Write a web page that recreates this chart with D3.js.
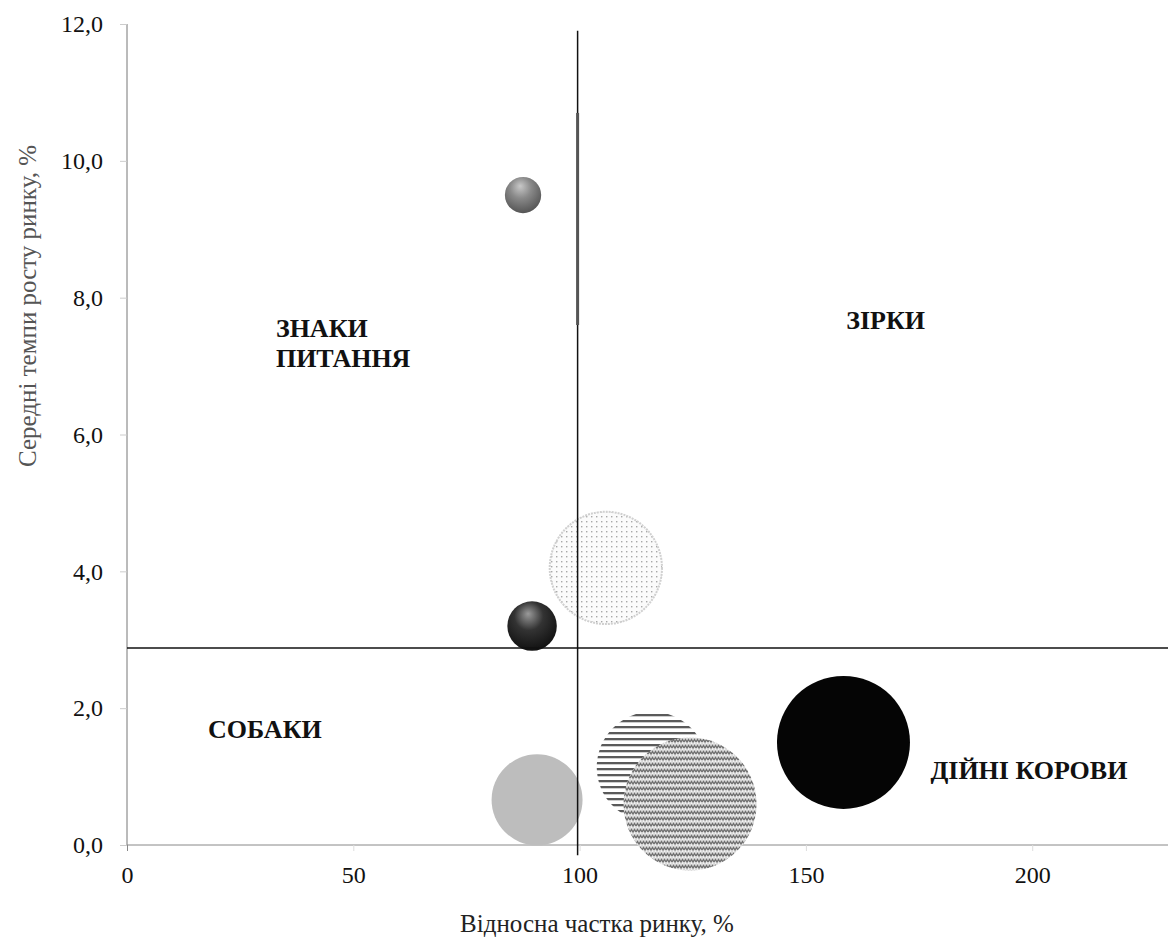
<!DOCTYPE html>
<html><head><meta charset="utf-8">
<script src="https://cdn.jsdelivr.net/npm/d3@7"></script>
<style>body{margin:0;background:#fff}svg{display:block}</style>
</head><body>
<svg id="c" width="1171" height="944"></svg>
<script>
// Data
const names = ["A","B","C","D","E","F","G"];
const shareX = [90.6, 116, 124.4, 158.3, 105.8, 89.5, 87.5];     // relative market share, %
const growthY = [0.66, 1.14, 0.6, 1.5, 4.05, 3.2, 9.5];          // market growth rate, %
const sizes = [44, 65, 94, 94, 67, 13, 7];                         // bubble size
const fills = ["solid-gray","stripes","wave","solid-black","dots","sphere-dark","sphere-gray"];
const xTicks = [0, 50, 100, 150, 200];
const yTicks = [0, 2, 4, 6, 8, 10, 12];
const quadLabels = [
  {lines:["ЗНАКИ","ПИТАННЯ"], x:32.9, y:7.43},
  {lines:["ЗІРКИ"], x:158.9, y:7.54},
  {lines:["СОБАКИ"], x:17.9, y:1.56},
  {lines:["ДІЙНІ КОРОВИ"], x:177.5, y:0.965}
];
const divX = 100, divY = 2.88;

const svg = d3.select("#c");
const x = d3.scaleLinear().domain([0, 230]).range([127, 1168]);
const y = d3.scaleLinear().domain([0, 12]).range([845, 24]);
const r = d3.scaleSqrt().domain([0, 94]).range([0, 66.5]);
const font = "'Liberation Serif','Times New Roman',serif";

const defs = svg.append("defs");
// dots pattern
const pd = defs.append("pattern").attr("id","dots").attr("patternUnits","userSpaceOnUse").attr("width",5).attr("height",5);
pd.append("rect").attr("width",5).attr("height",5).attr("fill","#fbfbfb");
pd.append("rect").attr("x",1).attr("y",1).attr("width",1.4).attr("height",1.4).attr("fill","#a8a8a8");
// stripes
const ps = defs.append("pattern").attr("id","stripes").attr("patternUnits","userSpaceOnUse").attr("width",8).attr("height",6);
ps.append("rect").attr("width",8).attr("height",6).attr("fill","#fff");
ps.append("rect").attr("y",0).attr("width",8).attr("height",2.3).attr("fill","#5a5a5a");
// wave
const pw = defs.append("pattern").attr("id","wave").attr("patternUnits","userSpaceOnUse").attr("width",6).attr("height",6);
pw.append("rect").attr("width",6).attr("height",6).attr("fill","#d8d8d8");
pw.append("path").attr("d","M0,4 L1.5,1.5 L3,4 L4.5,1.5 L6,4").attr("fill","none").attr("stroke","#6e6e6e").attr("stroke-width",1.3);
pw.append("rect").attr("x",1).attr("y",4.5).attr("width",1.2).attr("height",1.2).attr("fill","#fff");
pw.append("rect").attr("x",4).attr("y",4.5).attr("width",1.2).attr("height",1.2).attr("fill","#fff");
// sphere gradients
function sphere(id, hi, mid, lo){
  const g = defs.append("radialGradient").attr("id",id).attr("cx","45%").attr("cy","35%").attr("r","65%").attr("fx","42%").attr("fy","25%");
  g.append("stop").attr("offset","0%").attr("stop-color",hi);
  g.append("stop").attr("offset","45%").attr("stop-color",mid);
  g.append("stop").attr("offset","100%").attr("stop-color",lo);
}
sphere("sphere-gray","#c8c8c8","#8a8a8a","#555");
sphere("sphere-dark","#9a9a9a","#333","#111");

const fillOf = f => ({ "solid-gray":"#bdbdbd", "solid-black":"#050505",
  "stripes":"url(#stripes)", "wave":"url(#wave)", "dots":"url(#dots)",
  "sphere-dark":"url(#sphere-dark)", "sphere-gray":"url(#sphere-gray)" })[f];

// axes
const yAxis = d3.axisLeft(y).tickValues(yTicks).tickSize(7).tickPadding(17)
  .tickFormat(d => d3.format(".1f")(d).replace(".", ","));
const gy = svg.append("g").attr("transform",`translate(${x(0)},0)`).call(yAxis);
gy.select(".domain").attr("stroke","#777").attr("d",`M0,${y(0)}V${y(12)}`);
gy.selectAll(".tick line").attr("stroke","#ccc");
gy.selectAll("text").attr("font-family",font).attr("font-size",24).attr("fill","#111");

const xAxis = d3.axisBottom(x).tickValues(xTicks).tickSize(6).tickPadding(15);
const gx = svg.append("g").attr("transform",`translate(0,${y(0)})`).call(xAxis);
gx.select(".domain").attr("stroke","#888").attr("d",`M${x(0)},0H${x(230)}`);
gx.selectAll(".tick line").attr("stroke","#ddd");
gx.selectAll(".tick").filter(d=>d===0).select("line").attr("stroke","#888");
gx.selectAll("text").attr("font-family",font).attr("font-size",24).attr("fill","#111");

// bubbles
const data = names.map((n,i)=>({n, x:shareX[i], y:growthY[i], s:sizes[i], f:fills[i]}));
svg.append("g").selectAll("circle").data(data).join("circle")
  .attr("cx",d=>x(d.x)).attr("cy",d=>y(d.y)).attr("r",d=>r(d.s))
  .attr("fill",d=>fillOf(d.f))
  .attr("stroke",d=>d.f==="dots"?"#d0d0d0":"none")
  .attr("stroke-width",2).attr("stroke-dasharray",d=>d.f==="dots"?"2,1":null);

// divider lines
svg.append("line").attr("x1",x(divX)-2).attr("x2",x(divX)-2).attr("y1",y(11.9)).attr("y2",y(-0.15))
  .attr("stroke","#111").attr("stroke-width",1.5);
svg.append("line").attr("x1",x(divX)-2).attr("x2",x(divX)-2).attr("y1",y(10.7)).attr("y2",y(7.6))
  .attr("stroke","#555").attr("stroke-width",3);
svg.append("line").attr("x1",x(0)).attr("x2",x(230)).attr("y1",y(divY)).attr("y2",y(divY))
  .attr("stroke","#111").attr("stroke-width",1.5);

// quadrant labels
quadLabels.forEach(q=>{
  const t = svg.append("text").attr("font-family",font).attr("font-weight","bold").attr("font-size",26)
    .attr("text-anchor","start").attr("fill","#111");
  q.lines.forEach((l,i)=>t.append("tspan").attr("x",x(q.x)).attr("y",y(q.y)+i*30).text(l));
});

// axis titles
svg.append("text").attr("x",597).attr("y",932).attr("text-anchor","middle")
  .attr("font-family",font).attr("font-size",25).attr("fill","#222").text("Відносна частка ринку, %");
svg.append("text").attr("transform","translate(36,306) rotate(-90)").attr("text-anchor","middle")
  .attr("font-family",font).attr("font-size",25).attr("fill","#555").text("Середні темпи росту ринку, %");
</script>
</body></html>
